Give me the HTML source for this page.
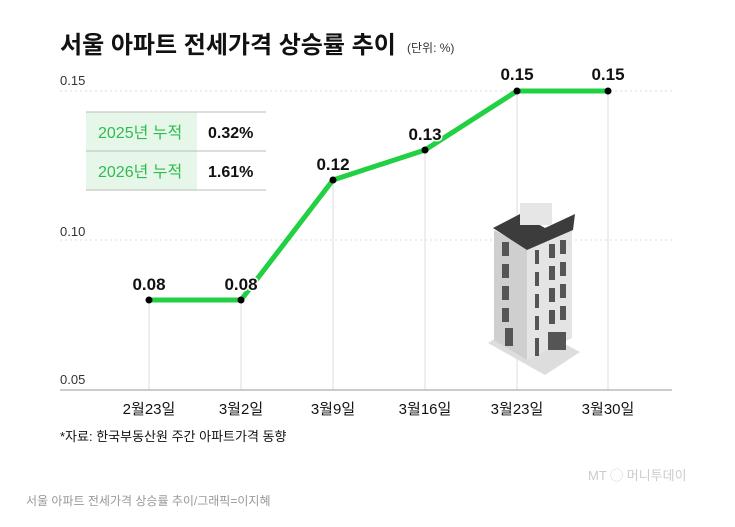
<!DOCTYPE html>
<html><head><meta charset="utf-8"><style>
body{margin:0;width:735px;height:522px;background:#fff;overflow:hidden;font-family:"Liberation Sans","Noto Sans CJK KR",sans-serif;}
</style></head><body>
<svg width="735" height="522" xmlns="http://www.w3.org/2000/svg" style="font-family:'Liberation Sans','Noto Sans CJK KR',sans-serif">
<text x="60" y="53" font-size="24" font-weight="bold" fill="#111">서울 아파트 전세가격 상승률 추이</text>
<text x="407" y="52" font-size="12" fill="#333">(단위: %)</text>
<text x="60" y="85" font-size="13" fill="#333">0.15</text>
<text x="60" y="236" font-size="13" fill="#333">0.10</text>
<text x="60" y="384" font-size="13" fill="#333">0.05</text>
<line x1="60" y1="91" x2="672" y2="91" stroke="#ddd" stroke-dasharray="2,3"/>
<line x1="60" y1="240" x2="672" y2="240" stroke="#ddd" stroke-dasharray="2,3"/>
<g stroke="#ddd" stroke-width="1">
<line x1="149" y1="300" x2="149" y2="390"/><line x1="241" y1="300" x2="241" y2="390"/>
<line x1="333" y1="180" x2="333" y2="390"/><line x1="425" y1="150" x2="425" y2="390"/>
<line x1="517" y1="91" x2="517" y2="390"/><line x1="608" y1="91" x2="608" y2="390"/>
</g>
<line x1="60" y1="390" x2="672" y2="390" stroke="#999"/>
<rect x="86" y="112" width="111" height="78" fill="#e6f7ea"/>
<g stroke="#bbb"><line x1="86" y1="112" x2="266" y2="112"/><line x1="86" y1="151" x2="266" y2="151"/><line x1="86" y1="190" x2="266" y2="190"/></g>
<text x="98" y="138" font-size="16" fill="#2dbd4f">2025년 누적</text>
<text x="98" y="177" font-size="16" fill="#2dbd4f">2026년 누적</text>
<text x="208" y="138" font-size="16" font-weight="bold" fill="#111">0.32%</text>
<text x="208" y="177" font-size="16" font-weight="bold" fill="#111">1.61%</text>
<g>
<polygon points="488,343 545,375 580,352 523,322" fill="#ddd"/>
<polygon points="494,230 527,248 527,360 494,340" fill="#cfcfcf"/>
<polygon points="527,248 572,228 572,338 527,360" fill="#e4e4e4"/>
<polygon points="493,228 520,214 545,228 575,214 573,230 527,250" fill="#3c3c3c"/>
<rect x="520" y="203" width="32" height="22" fill="#e6e6e6"/>
<g fill="#555">
<rect x="502" y="242" width="7" height="14"/><rect x="502" y="264" width="7" height="14"/><rect x="502" y="286" width="7" height="14"/><rect x="502" y="308" width="7" height="14"/><rect x="505" y="328" width="8" height="18"/>
<rect x="549" y="244" width="6" height="14"/><rect x="560" y="240" width="6" height="14"/>
<rect x="549" y="266" width="6" height="14"/><rect x="560" y="262" width="6" height="14"/>
<rect x="549" y="288" width="6" height="14"/><rect x="560" y="284" width="6" height="14"/>
<rect x="549" y="310" width="6" height="14"/><rect x="560" y="306" width="6" height="14"/>
<rect x="548" y="332" width="18" height="18"/>
<rect x="535" y="250" width="4" height="14"/><rect x="535" y="272" width="4" height="14"/><rect x="535" y="294" width="4" height="14"/><rect x="535" y="316" width="4" height="14"/><rect x="535" y="338" width="4" height="18"/>
</g>
</g>
<polyline points="149,300 241,300 333,180 425,150 517,91 608,91" fill="none" stroke="#22d043" stroke-width="5" stroke-linejoin="round"/>
<g fill="#000"><circle cx="149" cy="300" r="3.5"/><circle cx="241" cy="300" r="3.5"/><circle cx="333" cy="180" r="3.5"/><circle cx="425" cy="150" r="3.5"/><circle cx="517" cy="91" r="3.5"/><circle cx="608" cy="91" r="3.5"/></g>
<g font-size="17" font-weight="bold" fill="#111" text-anchor="middle" stroke="#fff" stroke-width="3" paint-order="stroke">
<text x="149" y="290">0.08</text><text x="241" y="290">0.08</text><text x="333" y="170">0.12</text><text x="425" y="140">0.13</text><text x="517" y="80">0.15</text><text x="608" y="80">0.15</text>
</g>
<g font-size="15" fill="#111" text-anchor="middle">
<text x="149" y="414">2월23일</text><text x="241" y="414">3월2일</text><text x="333" y="414">3월9일</text><text x="425" y="414">3월16일</text><text x="517" y="414">3월23일</text><text x="608" y="414">3월30일</text>
</g>
<text x="60" y="441" font-size="13" fill="#111">*자료: 한국부동산원 주간 아파트가격 동향</text>
<text x="588" y="480" font-size="13" fill="#ccc">MT ◯ 머니투데이</text>
<text x="26" y="505" font-size="12" fill="#999">서울 아파트 전세가격 상승률 추이/그래픽=이지혜</text>
</svg>
</body></html>
